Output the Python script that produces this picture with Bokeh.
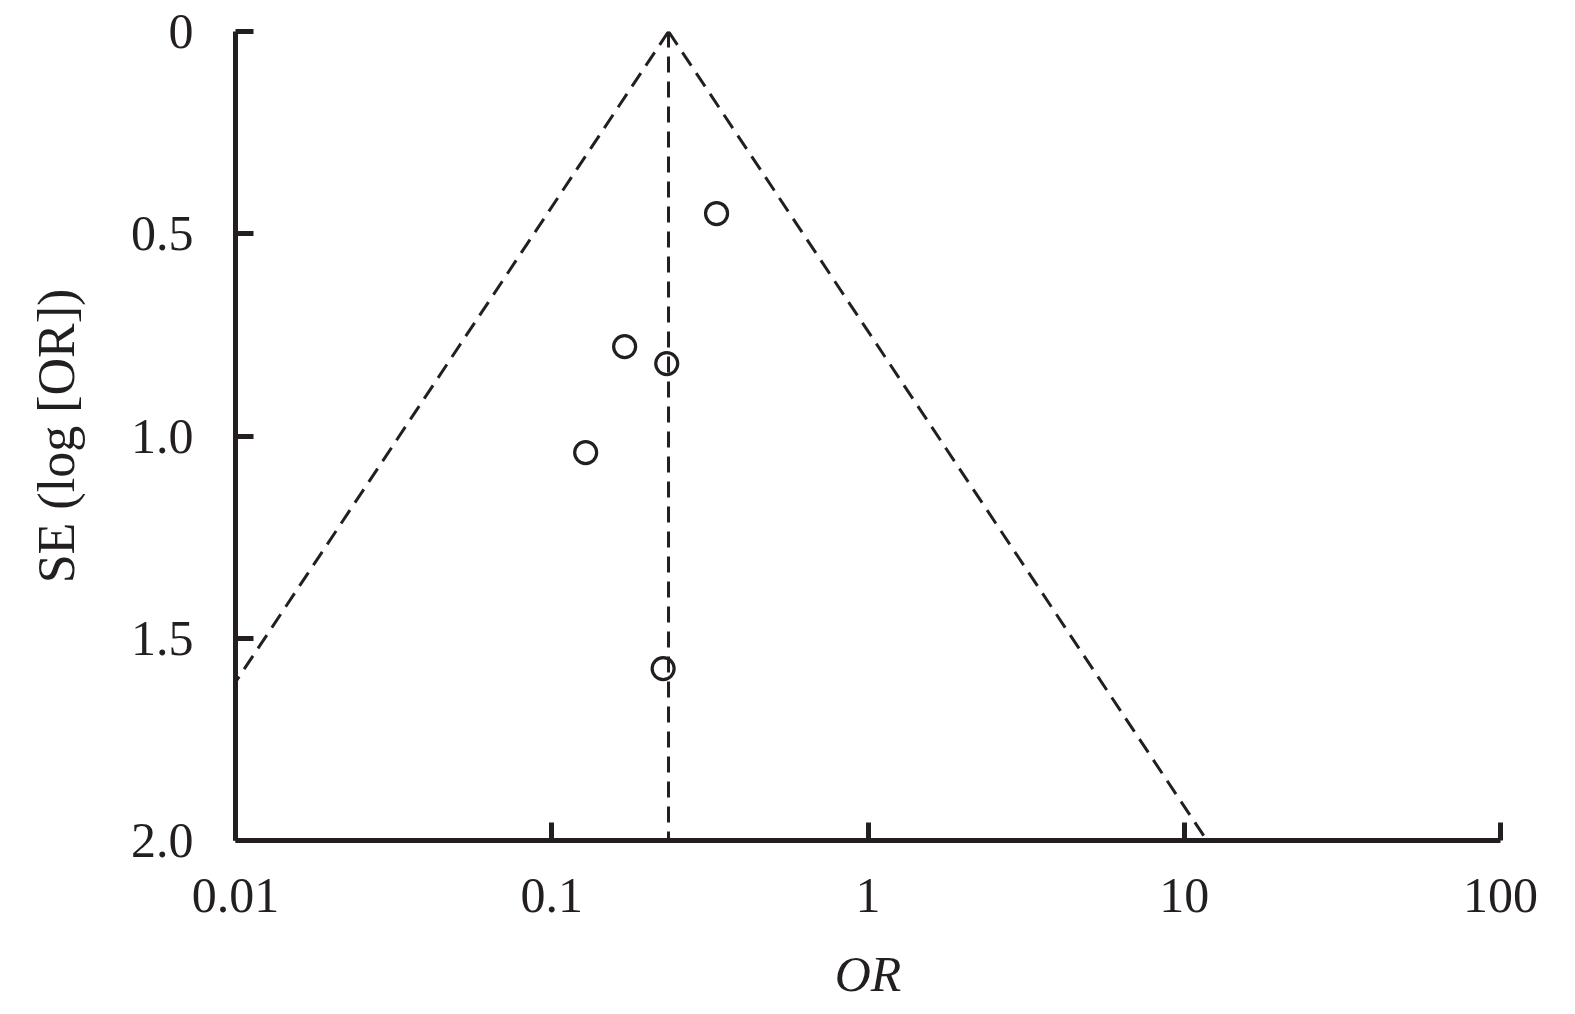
from bokeh.plotting import figure
from bokeh.models import Range1d, FixedTicker
from bokeh.embed import file_html
from bokeh.resources import INLINE
import numpy as np

# Study estimates
odds_ratios = [0.332, 0.170, 0.231, 0.128, 0.225]
std_errors = [0.450, 0.779, 0.821, 1.041, 1.575]

# Pooled estimate (apex of the funnel)
pooled_or = 0.234
se_max = 2.0

x_ticks = [0.01, 0.1, 1, 10, 100]
x_tick_labels = ["0.01", "0.1", "1", "10", "100"]
y_ticks = [0, 0.5, 1.0, 1.5, 2.0]
y_tick_labels = ["0", "0.5", "1.0", "1.5", "2.0"]

INK = "#231f20"
FONT = "Liberation Serif"

p = figure(width=1567, height=1006, x_axis_type="log",
           x_range=Range1d(0.01, 100), y_range=Range1d(2.0, 0),
           output_backend="svg", toolbar_location=None,
           min_border_left=235, min_border_right=67,
           min_border_top=31, min_border_bottom=166)
p.outline_line_color = None
p.grid.visible = False
p.background_fill_color = "white"
p.border_fill_color = "white"

# funnel lines (95% pseudo-confidence limits)
se_line = [0.0, se_max]
lower = [pooled_or * np.exp(-1.96 * s) for s in se_line]
upper = [pooled_or * np.exp(1.96 * s) for s in se_line]
dash_kw = dict(line_color=INK, line_width=3, line_dash="16 9")
p.line(lower, se_line, **dash_kw)
p.line(upper, se_line, **dash_kw)
p.line([pooled_or, pooled_or], se_line, **dash_kw)

p.scatter(odds_ratios, std_errors, marker="circle", size=22,
          fill_alpha=0, line_color=INK, line_width=3.2)

for ax in (p.xaxis[0], p.yaxis[0]):
    ax.axis_line_color = INK
    ax.axis_line_width = 5
    ax.major_tick_line_color = INK
    ax.major_tick_line_width = 5
    ax.major_tick_in = 18
    ax.major_tick_out = 0
    ax.minor_tick_line_color = None
    ax.major_label_text_font = FONT
    ax.major_label_text_font_size = "50px"
    ax.major_label_text_color = INK
    ax.axis_label_text_font = FONT
    ax.axis_label_text_color = INK

p.xaxis.ticker = FixedTicker(ticks=x_ticks)
p.xaxis.major_label_overrides = {t: l for t, l in zip(x_ticks, x_tick_labels)}
p.xaxis.major_label_standoff = 38
p.xaxis.axis_label = "OR"
p.xaxis.axis_label_text_font_style = "italic"
p.xaxis.axis_label_text_font_size = "50px"
p.xaxis.axis_label_standoff = 31

p.yaxis.ticker = FixedTicker(ticks=y_ticks)
p.yaxis.major_label_overrides = {t: l for t, l in zip(y_ticks, y_tick_labels)}
p.yaxis.major_label_standoff = 42
p.yaxis.axis_label = "SE (log [OR])"
p.yaxis.axis_label_text_font_style = "normal"
p.yaxis.axis_label_text_font_size = "52px"
p.yaxis.axis_label_standoff = 43

open("out.html", "w").write(file_html(p, INLINE))
